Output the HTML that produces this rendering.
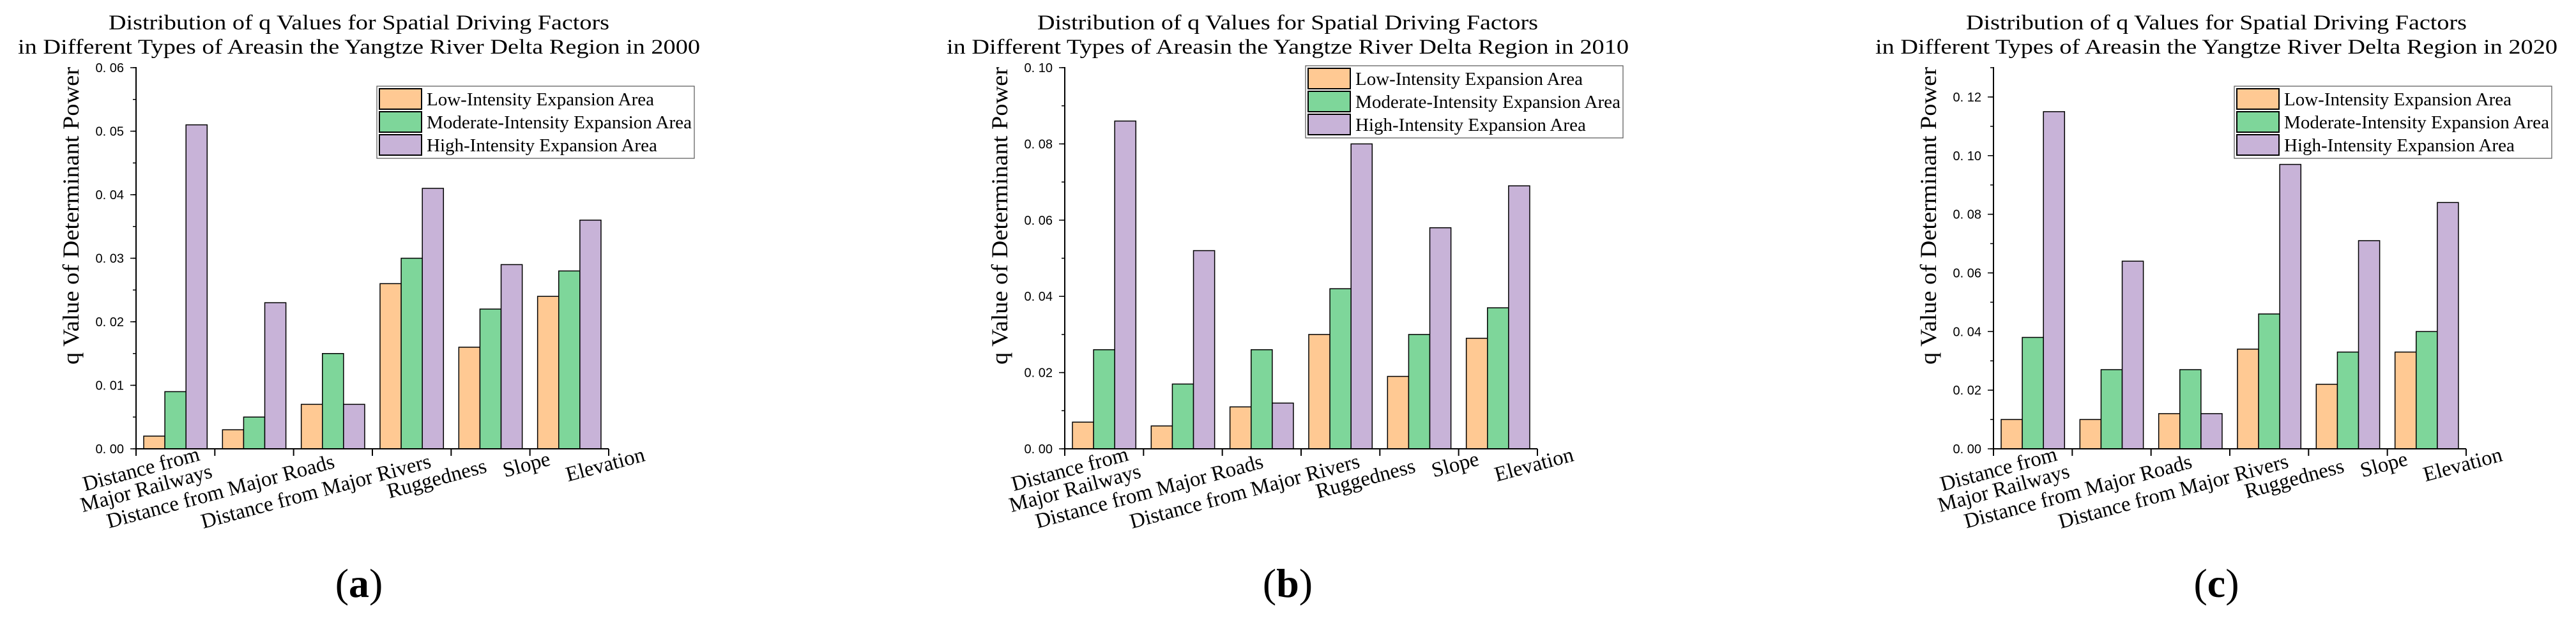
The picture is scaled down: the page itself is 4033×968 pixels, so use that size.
<!DOCTYPE html>
<html><head><meta charset="utf-8"><style>
html,body{margin:0;padding:0;background:#fff;}
svg{display:block;}
text{font-family:"Liberation Serif",serif;fill:#000;}
.tick{font-family:"Liberation Sans",sans-serif;font-size:20px;}
</style></head><body>
<svg id="fig" width="4033" height="968" viewBox="0 0 4033 968" xmlns="http://www.w3.org/2000/svg"></svg>
<script>
const categories = ["Distance from Major Railways","Distance from Major Roads","Distance from Major Rivers","Ruggedness","Slope","Elevation"];
const seriesNames = ["Low-Intensity Expansion Area","Moderate-Intensity Expansion Area","High-Intensity Expansion Area"];
const years = ["2000","2010","2020"];
const panelLetters = ["a","b","c"];
const lowA = [0.002,0.003,0.007,0.026,0.016,0.024];
const modA = [0.009,0.005,0.015,0.030,0.022,0.028];
const highA = [0.051,0.023,0.007,0.041,0.029,0.036];
const lowB = [0.007,0.006,0.011,0.030,0.019,0.029];
const modB = [0.026,0.017,0.026,0.042,0.030,0.037];
const highB = [0.086,0.052,0.012,0.080,0.058,0.069];
const lowC = [0.010,0.010,0.012,0.034,0.022,0.033];
const modC = [0.038,0.027,0.027,0.046,0.033,0.040];
const highC = [0.115,0.064,0.012,0.097,0.071,0.084];
const yMaxes = [0.06,0.10,0.13];
const tickLabelsA = ["0. 00","0. 01","0. 02","0. 03","0. 04","0. 05","0. 06"];
const tickValsA = [0,0.01,0.02,0.03,0.04,0.05,0.06];
const tickLabelsB = ["0. 00","0. 02","0. 04","0. 06","0. 08","0. 10"];
const tickValsB = [0,0.02,0.04,0.06,0.08,0.10];
const tickLabelsC = ["0. 00","0. 02","0. 04","0. 06","0. 08","0. 10","0. 12"];
const tickValsC = [0,0.02,0.04,0.06,0.08,0.10,0.12];
const minorStep = [0.005,0.01,0.01];

const colors = ["#FFC993","#7ED69A","#C8B3D8"];
const NS="http://www.w3.org/2000/svg";
const svg=document.getElementById('fig');
function mk(tag,attrs,parent){const e=document.createElementNS(NS,tag);for(const k in attrs)e.setAttribute(k,attrs[k]);(parent||svg).appendChild(e);return e;}

const panels=[
 {low:lowA,mod:modA,high:highA,tl:tickLabelsA,tv:tickValsA,legY:135},
 {low:lowB,mod:modB,high:highB,tl:tickLabelsB,tv:tickValsB,legY:103},
 {low:lowC,mod:modC,high:highC,tl:tickLabelsC,tv:tickValsC,legY:135}
];
const labelOff=[[-51,735,-43,765],[-50,770],[-24,770],[42,750],[59,728],[59,728]];

panels.forEach((p,pi)=>{
  const ox=pi*1454;
  const g=mk('g',{});
  
  
  const x0=213+ox, y0=703, yTop=106, cw=123.33;
  const yMax=yMaxes[pi];
  const yS=v=>y0-(v/yMax)*(y0-yTop);
  const xS=i=>x0+i*cw;
  const t1=mk('text',{x:562+ox,y:46,'text-anchor':'middle','font-size':33,textLength:784,lengthAdjust:'spacingAndGlyphs'},g);
  t1.textContent="Distribution of q Values for Spatial Driving Factors";
  
  
  const t2=mk('text',{x:562+ox,y:84,'text-anchor':'middle','font-size':33,textLength:1068,lengthAdjust:'spacingAndGlyphs'},g);
  t2.textContent="in Different Types of Areasin the Yangtze River Delta Region in "+years[pi];
  
  
  const series=[p.low,p.mod,p.high];
  series.forEach((arr,si)=>{
    arr.forEach((v,ci)=>{
      const bx=xS(ci)+12+si*33.1;
      const r=mk('rect',{x:bx,y:yS(v),width:33.1,height:y0-yS(v),fill:colors[si],stroke:'#000','stroke-width':1.5},g);
      
      
    });
  });
  const ya=mk('line',{x1:x0,y1:yTop-1,x2:x0,y2:y0+1,stroke:'#000','stroke-width':2},g);
  
  
  const xa=mk('line',{x1:x0-1,y1:y0,x2:xS(6),y2:y0,stroke:'#000','stroke-width':2},g);
  
  
  for(let i=0;i<=6;i++){mk('line',{x1:xS(i),y1:y0,x2:xS(i),y2:y0+11,stroke:'#000','stroke-width':2},g);}
  const ms=minorStep[pi];
  for(let k=0;k*ms<=yMax+1e-9;k++){mk('line',{x1:x0-5,y1:yS(k*ms),x2:x0,y2:yS(k*ms),stroke:'#000','stroke-width':1.5},g);}
  p.tv.forEach((v,i)=>{
    mk('line',{x1:x0-9,y1:yS(v),x2:x0,y2:yS(v),stroke:'#000','stroke-width':1.5},g);
    const tl=mk('text',{x:x0-19,y:yS(v)+7,'text-anchor':'end',class:'tick'},g);
    tl.textContent=p.tl[i];
    
    
  });
  const yt=mk('text',{x:0,y:0,'text-anchor':'middle','font-size':36,textLength:466,lengthAdjust:'spacingAndGlyphs',transform:`translate(${123+ox},338) rotate(-90)`},g);
  yt.textContent="q Value of Determinant Power";
  
  
  categories.forEach((c,ci)=>{
    const cx=xS(ci)+cw/2;
    const o=labelOff[ci];
    if(ci===0){
      const a=mk('text',{x:0,y:0,'text-anchor':'middle','font-size':33,transform:`translate(${cx+o[0]},${o[1]+10}) rotate(-15)`},g);
      a.textContent="Distance from";
      
      
      const b=mk('text',{x:0,y:0,'text-anchor':'middle','font-size':33,transform:`translate(${cx+o[2]},${o[3]+10}) rotate(-15)`},g);
      b.textContent="Major Railways";
      
      
    } else {
      const a=mk('text',{x:0,y:0,'text-anchor':'middle','font-size':33,transform:`translate(${cx+o[0]},${o[1]+10}) rotate(-15)`},g);
      a.textContent=c;
      
      
    }
  });
  const lx=590+ox, ly=p.legY;
  const lg=mk('g',{},g);
  
  
  mk('rect',{x:lx,y:ly,width:497,height:113,fill:'#fff',stroke:'#555','stroke-width':1.2},lg);
  seriesNames.forEach((n,si)=>{
    const ry=ly+4+si*36;
    const sw=mk('rect',{x:lx+4,y:ry,width:66,height:32,fill:colors[si],stroke:'#000','stroke-width':2},lg);
    
    
    const attrs={x:lx+78,y:ry+26,'font-size':29};
    if(si===1){attrs.textLength=415;attrs.lengthAdjust='spacingAndGlyphs';}
    const tx=mk('text',attrs,lg);
    tx.textContent=n;
    
    
  });
  const pl=mk('text',{x:562+ox,y:935,'text-anchor':'middle','font-size':64},g);
  pl.innerHTML='(<tspan font-weight="bold">'+panelLetters[pi]+'</tspan>)';
  
  
});
</script>
</body></html>
